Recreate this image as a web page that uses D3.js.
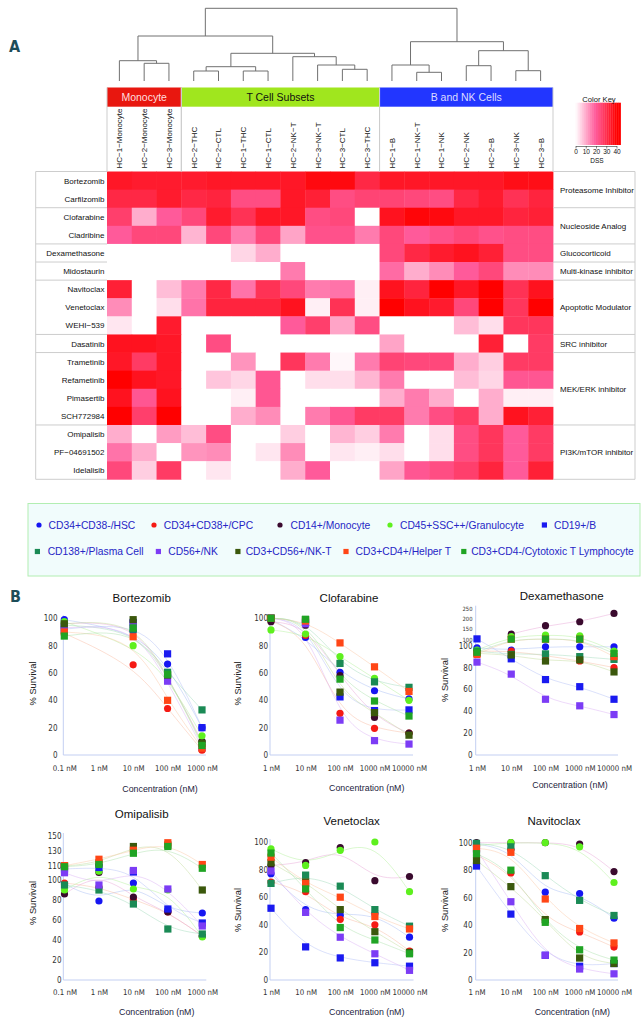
<!DOCTYPE html>
<html><head><meta charset="utf-8">
<script src="https://cdn.jsdelivr.net/npm/d3@7"></script>
<style>
body{margin:0;background:#fff}
svg{display:block}
text{font-family:"Liberation Sans",Arial,Helvetica,sans-serif}
.narrow{font-family:"Liberation Sans Narrow","DejaVu Sans Condensed","Arial Narrow",sans-serif}
</style>
</head><body>
<svg id="c" width="644" height="1027"></svg>
<script>
// ================= DATA =================
const columns = ["HC-1-Monocyte","HC-2-Monocyte","HC-3-Monocyte","HC-2-THC","HC-2-CTL","HC-1-THC","HC-1-CTL","HC-2-NK-T","HC-3-NK-T","HC-3-CTL","HC-3-THC","HC-1-B","HC-1-NK-T","HC-1-NK","HC-2-NK","HC-2-B","HC-3-NK","HC-3-B"];
const columnGroups = ["Monocyte","T Cell Subsets","B and NK Cells"];
const columnGroupSizes = [3, 8, 7];
const drugs = ["Bortezomib","Carfilzomib","Clofarabine","Cladribine","Dexamethasone","Midostaurin","Navitoclax","Venetoclax","WEHI-539","Dasatinib","Trametinib","Refametinib","Pimasertib","SCH772984","Omipalisib","PF-04691502","Idelalisib"];
const drugClasses = ["Proteasome Inhibitor","Nucleoside Analog","Glucocorticoid","Multi-kinase inhibitor","Apoptotic Modulator","SRC inhibitor","MEK/ERK inhibitor","PI3K/mTOR inhibitor"];
const drugClassSizes = [2, 2, 1, 1, 3, 1, 4, 3];
// DSS values, one row per drug, columns in the order above
const dss = [
  [35,34,34,34,35,35,35,35,38,38,31,35,35,35,35,35,37,37],
  [31,31,34,31,32,23,23,35,33,23,25,25,24,23,31,34,29,32],
  [26,10,20,24,34,29,35,35,23,24,0,36,39,38,35,35,32,33],
  [20,24,24,9,24,16,24,11,22,22,16,24,20,22,24,22,23,23],
  [0,0,0,0,0,5,10,0,0,0,0,24,31,34,36,33,23,23],
  [0,0,0,0,0,0,0,16,0,0,0,18,10,14,20,24,14,14],
  [33,0,8,16,31,17,29,24,16,17,2,36,32,40,35,40,29,36],
  [14,0,4,17,32,32,32,36,2,29,2,40,36,34,24,40,28,40],
  [3,0,34,0,0,0,0,20,26,11,23,0,0,0,8,4,28,28],
  [36,36,35,0,23,0,0,0,0,0,0,11,0,0,0,33,0,27],
  [35,27,35,0,0,13,0,28,16,1,16,25,24,24,10,6,27,27],
  [40,36,35,0,7,5,21,0,4,4,9,16,0,0,8,5,21,21],
  [36,21,36,0,0,2,21,0,0,0,0,10,16,10,0,10,2,2],
  [40,26,40,0,0,10,14,0,16,21,27,27,16,23,27,10,36,33],
  [10,0,12,8,23,0,0,6,0,9,6,16,0,4,23,28,20,27],
  [17,10,0,13,14,0,3,14,0,3,2,4,0,4,23,28,20,27],
  [24,6,27,0,3,0,0,10,20,0,0,11,21,23,26,32,20,33]
];
// column dendrogram: merge heights (h) and children
const dendrogram = {h:72.7, c:[
  {h:45, c:[
    {h:20.3, c:["HC-1-Monocyte", {h:17.7, c:["HC-2-Monocyte","HC-3-Monocyte"]}]},
    {h:27.7, c:[
      {h:14.3, c:[{h:10, c:["HC-2-THC","HC-2-CTL"]}, {h:10, c:["HC-1-THC","HC-1-CTL"]}]},
      {h:24.3, c:["HC-2-NK-T", {h:16, c:["HC-3-NK-T", {h:11.7, c:["HC-3-CTL","HC-3-THC"]}]}]}
    ]}
  ]},
  {h:39.3, c:[
    {h:16, c:["HC-1-B", {h:8.7, c:["HC-1-NK-T","HC-1-NK"]}]},
    {h:30.3, c:[{h:15.3, c:["HC-2-NK","HC-2-B"]}, {h:10.3, c:["HC-3-NK","HC-3-B"]}]}
  ]}
]};
const keyTicks = [0, 10, 20, 30, 40];

const cellTypes = ["CD34+CD38-/HSC","CD34+CD38+/CPC","CD14+/Monocyte","CD45+SSC++/Granulocyte","CD19+/B","CD138+/Plasma Cell","CD56+/NK","CD3+CD56+/NK-T","CD3+CD4+/Helper T","CD3+CD4-/Cytotoxic T Lymphocyte"];
const cellShapes = ["circle","circle","circle","circle","square","square","square","square","square","square"];

const drugTitles = ["Bortezomib","Clofarabine","Dexamethasone","Omipalisib","Venetoclax","Navitoclax"];

const bortezomibConc = [0.1, 10, 100, 1000];
const bortezomibTicks = [0.1, 1, 10, 100, 1000];
const bortezomibSurvival = [
  [99, 90.5, 66.5, 20],
  [89, 66, 34, 3.5],
  [96, 98, 57.5, 10],
  [97.5, 80, 57, 14],
  [92, 97, 74, 20],
  [95, 92, 60.5, 33],
  [93, 95.5, 54, 5.5],
  [96, 99, 58.5, 8.5],
  [90, 86.5, 40, 5],
  [87, 93, 59, 7]
];

const clofarabineConc = [1, 10, 100, 1000, 10000];
const clofarabineSurvival = [
  [99, 86, 60.5, 47, 41],
  [98, 87.5, 30.5, 19.5, 16],
  [97.5, 95, 58, 27.5, 16],
  [91.5, 88.5, 72, 56, 40],
  [100, 97, 42.5, 32.5, 33],
  [100, 99, 67, 53.5, 49.5],
  [100, 96, 25.5, 10.5, 8],
  [100, 99, 46, 31, 14.5],
  [100, 98, 82, 64.5, 46.5],
  [100, 99.3, 55.5, 39.5, 28.5]
];

const dexamethasoneConc = [1, 10, 100, 1000, 10000];
const dexamethasoneSurvival = [
  [98, 96, 99, 99, 99],
  [95, 95, 91, 86, 80],
  [null, 126, 167, 186, 227],
  [96, 113, 121, 117.5, 95],
  [102, 88, 69, 62.5, 51],
  [95, 92, 92.5, 90, 87.5],
  [85, 74, 51, 45, 37],
  [93, 91.5, 86, 87, 76],
  [92, 100.5, 100.5, 100.5, 90],
  [94, 101, 101, 101, 93]
];

const omipalisibConc = [0.1, 1, 10, 100, 1000];
const omipalisibSurvival = [
  [96, 79, 97, 70, 67],
  [97, 93, 80.5, 68, 44],
  [86, 101.5, 83, 68, 44],
  [90, 103, 91, 90, 43],
  [106, 108, 102, 71, 57],
  [95, 90, 76, 51, 46],
  [101, 95, 104, 91, 54],
  [110, 114, 136, 138, 90],
  [110.5, 119, 131, 141, 112],
  [109, 112, 127, 136, 107]
];

const venetoclaxConc = [1, 10, 100, 1000, 10000];
const venetoclaxSurvival = [
  [77, 51, 47, 48, 31],
  [71, 64, 44, 40, 21],
  [83, 85, 96, 72, 75],
  [95, 83, 94, 100, 64],
  [52, 24, 16, 12.5, 10],
  [70, 76, 68, 51, 39],
  [79, 49, 31, 19, 7],
  [85, 71, 51, 35, 20],
  [89, 70, 60, 46, 37],
  [92, 66, 38, 29, 19]
];

const navitoclaxConc = [1, 10, 100, 1000, 10000];
const navitoclaxSurvival = [
  [99, 95, 64, 63, 45],
  [91, 78, 44, 35, 24],
  [100, 100, 100, 99, 79],
  [98, 100, 100, 97, 71],
  [83, 48, 18, 10, 12],
  [99.5, 97, 76, 58, 47],
  [95, 57, 18, 8, 4.5],
  [87, 68, 44, 16, 12],
  [96, 93, 59, 37.5, 27],
  [92, 80, 42, 22, 14.5]
];

const lowerTicks = [0, 20, 40, 60, 80, 100];
const dexUpperTicks = [100, 150, 200, 250];
const omiUpperTicks = [110, 130, 150];

// ================= STYLE / LAYOUT =================
const cellColors = ["#1616f2","#f51a14","#3a0a2e","#5ef01e","#1a1af0","#1a8a55","#7c3cf5","#3b580c","#ff4616","#20a424"];
const curveColors = ["#a9bdf5","#f8bba2","#e8a6d6","#b4f09c","#b3bff7","#a2dcbc","#dbb2f4","#c2dc9c","#fac9a6","#ace2ac"];
const svg = d3.select("#c");
const teal = "#1d4d58";

svg.append("text").attr("class","narrow").attr("x",9).attr("y",52).attr("font-size",16).attr("font-weight","bold").attr("fill",teal).text("A");
svg.append("text").attr("class","narrow").attr("x",10).attr("y",601.5).attr("font-size",16).attr("font-weight","bold").attr("fill",teal).text("B");

// ---------- Heatmap ----------
const hmX0 = 107, hmX1 = 553, hmY0 = 171.5, hmY1 = 479.3;
const xCol = d3.scaleBand().domain(columns).range([hmX0, hmX1]);
const yRow = d3.scaleBand().domain(drugs).range([hmY0, hmY1]);
const color = d3.scaleLinear().domain([0, 20, 40]).range(["#ffffff", "#ff5a9a", "#ff0000"]).clamp(true);
const dispName = s => s.replace(/-/g, "\u2212");
const gridColor = "#cdcdcd";

const cellG = svg.append("g");
dss.forEach((row, i) => {
  row.forEach((v, j) => {
    cellG.append("rect")
      .attr("x", xCol(columns[j])).attr("y", yRow(drugs[i]))
      .attr("width", xCol.bandwidth() + 0.4).attr("height", yRow.bandwidth() + 0.4)
      .attr("fill", color(v));
  });
});

// dendrogram
const dh = d3.scaleLinear().domain([0, dendrogram.h]).range([81, 8.3]);
const dendG = svg.append("g").attr("stroke", "#707070").attr("stroke-width", 1).attr("fill", "none");
function drawNode(node) {
  if (typeof node === "string") return {x: xCol(node) + xCol.bandwidth() / 2, h: 0};
  const kids = node.c.map(drawNode);
  const yN = dh(node.h);
  dendG.append("line").attr("x1", kids[0].x).attr("x2", kids[1].x).attr("y1", yN).attr("y2", yN);
  kids.forEach(k => dendG.append("line").attr("x1", k.x).attr("x2", k.x).attr("y1", yN).attr("y2", dh(k.h)));
  return {x: (kids[0].x + kids[1].x) / 2, h: node.h};
}
drawNode(dendrogram);

// column group headers
const groupColors = ["#e8170f", "#a0e61e", "#2236ff"];
const groupTextColors = ["#ffdede", "#111111", "#dcdcff"];
const hdrY0 = 87.5, hdrY1 = 106.7;
let start = 0;
const groupBounds = [];
columnGroups.forEach((g, i) => {
  const a = xCol(columns[start]);
  const b = xCol(columns[start + columnGroupSizes[i] - 1]) + xCol.bandwidth();
  groupBounds.push([a, b]);
  svg.append("rect").attr("x", a).attr("y", hdrY0).attr("width", b - a).attr("height", hdrY1 - hdrY0).attr("fill", groupColors[i]);
  svg.append("text").attr("x", (a + b) / 2).attr("y", 101).attr("text-anchor", "middle")
    .attr("font-size", 10.5).attr("fill", groupTextColors[i]).text(g);
  start += columnGroupSizes[i];
});
// column label boxes
const lineG = svg.append("g").attr("stroke", gridColor).attr("stroke-width", 1);
groupBounds.forEach(([a, b]) => {
  lineG.append("line").attr("x1", a).attr("x2", a).attr("y1", hdrY0).attr("y2", hmY0);
  lineG.append("line").attr("x1", b).attr("x2", b).attr("y1", hdrY0).attr("y2", hmY0);
});
// column labels
columns.forEach(c => {
  const cx = xCol(c) + xCol.bandwidth() / 2 + 2.9;
  svg.append("text").attr("transform", `translate(${cx},168.5) rotate(-90)`)
    .attr("font-size", 8).attr("fill", "#111").text(dispName(c));
});

// row label boxes & class boxes
const leftX = 35.7, rightX = 635;
let idx = 0;
const bounds = [0];
drugClassSizes.forEach(s => { idx += s; bounds.push(idx); });
bounds.forEach(b => {
  const yy = b < drugs.length ? yRow(drugs[b]) : hmY1;
  lineG.append("line").attr("x1", leftX).attr("x2", hmX0).attr("y1", yy).attr("y2", yy);
  lineG.append("line").attr("x1", hmX1).attr("x2", rightX).attr("y1", yy).attr("y2", yy);
});
lineG.append("line").attr("x1", leftX).attr("x2", leftX).attr("y1", hmY0).attr("y2", hmY1);
lineG.append("line").attr("x1", rightX).attr("x2", rightX).attr("y1", hmY0).attr("y2", hmY1);

drugs.forEach(d => {
  svg.append("text").attr("x", 104.5).attr("y", yRow(d) + yRow.bandwidth() / 2 + 3)
    .attr("text-anchor", "end").attr("font-size", 8).attr("fill", "#111").text(dispName(d));
});
drugClasses.forEach((c, i) => {
  const a = yRow(drugs[bounds[i]]);
  const b = bounds[i + 1] < drugs.length ? yRow(drugs[bounds[i + 1]]) : hmY1;
  svg.append("text").attr("x", 560).attr("y", (a + b) / 2 + 3)
    .attr("font-size", 8).attr("fill", "#111").text(c);
});

// color key
const keyX = d3.scaleLinear().domain([0, 40]).range([575.5, 616.5]);
d3.range(0, 44, 2).forEach(v => {
  svg.append("rect").attr("x", keyX(v)).attr("y", 102.7)
    .attr("width", keyX(v + 2) - keyX(v) + 0.3).attr("height", 42.3)
    .attr("fill", color(v + 1));
});
svg.append("text").attr("x", 599).attr("y", 101.5).attr("text-anchor", "middle").attr("font-size", 7.6).attr("fill", "#111").text("Color Key");
const keyAxis = svg.append("g").attr("transform", "translate(0,146)")
  .call(d3.axisBottom(keyX).tickValues(keyTicks).tickSize(2.5).tickSizeOuter(0).tickPadding(1));
keyAxis.selectAll("text").attr("font-size", 6.5).attr("fill", "#111").attr("font-family", "Liberation Sans, Arial, sans-serif");
keyAxis.selectAll("line,path").attr("stroke", "#333").attr("stroke-width", 0.6);
svg.append("text").attr("x", 597).attr("y", 162.5).attr("text-anchor", "middle").attr("font-size", 6.5).attr("fill", "#111").text("DSS");

// ---------- Legend ----------
svg.append("rect").attr("x", 28).attr("y", 503.5).attr("width", 612).attr("height", 72.5)
  .attr("fill", "#f1fcfc").attr("stroke", "#b2eeb2").attr("stroke-width", 1);
const legendPos = [[39,48.6,525],[154,163.8,525],[280,290.5,525],[390,400,525],[544.4,554,525],
                   [37.4,47.7,551.5],[158.4,168.3,551.5],[237.9,245.7,551.5],[346,355.6,551.5],[463.8,471.2,551.5]];
cellTypes.forEach((t, i) => {
  const [mx, tx, ly] = legendPos[i];
  if (cellShapes[i] === "circle") {
    svg.append("circle").attr("cx", mx).attr("cy", ly).attr("r", 2.6).attr("fill", cellColors[i]);
  } else {
    svg.append("rect").attr("x", mx - 2.6).attr("y", ly - 2.6).attr("width", 5.2).attr("height", 5.2).attr("fill", cellColors[i]);
  }
  svg.append("text").attr("x", tx).attr("y", ly + 3.6).attr("font-size", 10.3).attr("fill", "#2626c6").text(t);
});

// ---------- Panels B ----------
const panels = [
  {conc: bortezomibConc, ticks: bortezomibTicks, vals: bortezomibSurvival,
   title:[141.7,601.5], ylab:[33.3,683.5], xlab:[160,791.5], xr:[64.3,202], xTickY:771, yAxisX:63.3, yLabelX:57.5,
   segs:[{d:[0,100], r:[755,618.3], t:lowerTicks, f:8}]},
  {conc: clofarabineConc, ticks: clofarabineConc, vals: clofarabineSurvival,
   title:[349,601.5], ylab:[238.3,683.5], xlab:[366.7,791], xr:[271,409], xTickY:771, yAxisX:270, yLabelX:268,
   segs:[{d:[0,100], r:[755,618.3], t:lowerTicks, f:8}]},
  {conc: dexamethasoneConc, ticks: dexamethasoneConc, vals: dexamethasoneSurvival,
   title:[561.7,599.5], ylab:[445,680], xlab:[570,787.5], xr:[477,614], xTickY:771, yAxisX:475.7, yLabelX:472.5,
   segs:[{d:[0,100], r:[755,645.7], t:lowerTicks, f:8}, {d:[100,250], r:[639.3,608.7], t:dexUpperTicks, f:5.8}]},
  {conc: omipalisibConc, ticks: omipalisibConc, vals: omipalisibSurvival,
   title:[141.7,817.5], ylab:[33.3,903], xlab:[156.7,1014.5], xr:[64.5,202.3], xTickY:995.5, yAxisX:63.3, yLabelX:61.5,
   segs:[{d:[0,100], r:[980,880], t:lowerTicks, f:8}, {d:[100,150], r:[873.5,836], t:omiUpperTicks, f:8}]},
  {conc: venetoclaxConc, ticks: venetoclaxConc, vals: venetoclaxSurvival,
   title:[351.7,825], ylab:[238.3,910], xlab:[366.7,1015], xr:[271,409.5], xTickY:995.5, yAxisX:270, yLabelX:268,
   segs:[{d:[0,100], r:[980,842], t:lowerTicks, f:8}]},
  {conc: navitoclaxConc, ticks: navitoclaxConc, vals: navitoclaxSurvival,
   title:[554,825], ylab:[445,910], xlab:[572.3,1015], xr:[476.5,614], xTickY:995.5, yAxisX:475.7, yLabelX:472.5,
   segs:[{d:[0,100], r:[980,842.7], t:lowerTicks, f:8}]}
];

panels.forEach((p, pi) => {
  const g = svg.append("g");
  const x = d3.scaleLog().domain([p.ticks[0], p.ticks[p.ticks.length - 1]]).range(p.xr);
  const scales = p.segs.map(s => d3.scaleLinear().domain(s.d).range(s.r));
  const y = v => (scales.length > 1 && v > p.segs[0].d[1]) ? scales[1](v) : scales[0](v);
  const y0 = scales[0](0);
  const yTop = p.segs[p.segs.length - 1].r[1];
  // axes lines
  g.append("line").attr("x1", p.yAxisX).attr("x2", p.yAxisX).attr("y1", y0).attr("y2", yTop - 3)
    .attr("stroke", "#c3cff2").attr("stroke-width", 1);
  g.append("line").attr("x1", p.yAxisX).attr("x2", p.xr[1] + 4).attr("y1", y0).attr("y2", y0)
    .attr("stroke", "#c3cff2").attr("stroke-width", 1);
  // y tick labels
  p.segs.forEach((s, si) => {
    const ax = g.append("g").attr("transform", `translate(${p.yLabelX},0)`)
      .call(d3.axisLeft(scales[si]).tickValues(s.t).tickSize(0).tickPadding(0));
    ax.select(".domain").remove();
    ax.selectAll("text").attr("class", "narrow").attr("font-size", s.f).attr("fill", "#333");
  });
  // x tick labels
  const xa = g.append("g").attr("transform", `translate(0,${p.xTickY - 6})`)
    .call(d3.axisBottom(x).tickValues(p.ticks).tickFormat(d => d + " nM").tickSize(0).tickPadding(0));
  xa.select(".domain").remove();
  xa.selectAll("text").attr("class", "narrow").attr("font-size", 7.8).attr("fill", "#333");
  // titles
  g.append("text").attr("x", p.title[0]).attr("y", p.title[1]).attr("text-anchor", "middle")
    .attr("font-size", 11.5).attr("fill", "#111").text(drugTitles[pi]);
  g.append("text").attr("transform", `translate(${p.ylab[0] + 3},${p.ylab[1]}) rotate(-90)`)
    .attr("text-anchor", "middle").attr("font-size", 9.3).attr("fill", "#222").text("% Survival");
  g.append("text").attr("x", p.xlab[0]).attr("y", p.xlab[1]).attr("text-anchor", "middle")
    .attr("font-size", 8.8).attr("fill", "#22223c").text("Concentration (nM)");
  // curves
  const line = d3.line().defined(d => d.v != null).x(d => x(d.c)).y(d => y(d.v)).curve(d3.curveBasis);
  p.vals.forEach((vals, si) => {
    const pts = vals.map((v, k) => ({c: p.conc[k], v})).filter(d => d.v != null);
    g.append("path").attr("d", line(pts)).attr("fill", "none")
      .attr("stroke", curveColors[si]).attr("stroke-width", 0.8).attr("opacity", 0.6);
  });
  // points
  p.vals.forEach((vals, si) => {
    vals.forEach((v, k) => {
      if (v == null) return;
      const px = x(p.conc[k]), py = y(v);
      if (cellShapes[si] === "circle") {
        g.append("circle").attr("cx", px).attr("cy", py).attr("r", 3.6).attr("fill", cellColors[si]);
      } else {
        g.append("rect").attr("x", px - 3.6).attr("y", py - 3.6).attr("width", 7.2).attr("height", 7.2).attr("fill", cellColors[si]);
      }
    });
  });
});
</script>
</body></html>
